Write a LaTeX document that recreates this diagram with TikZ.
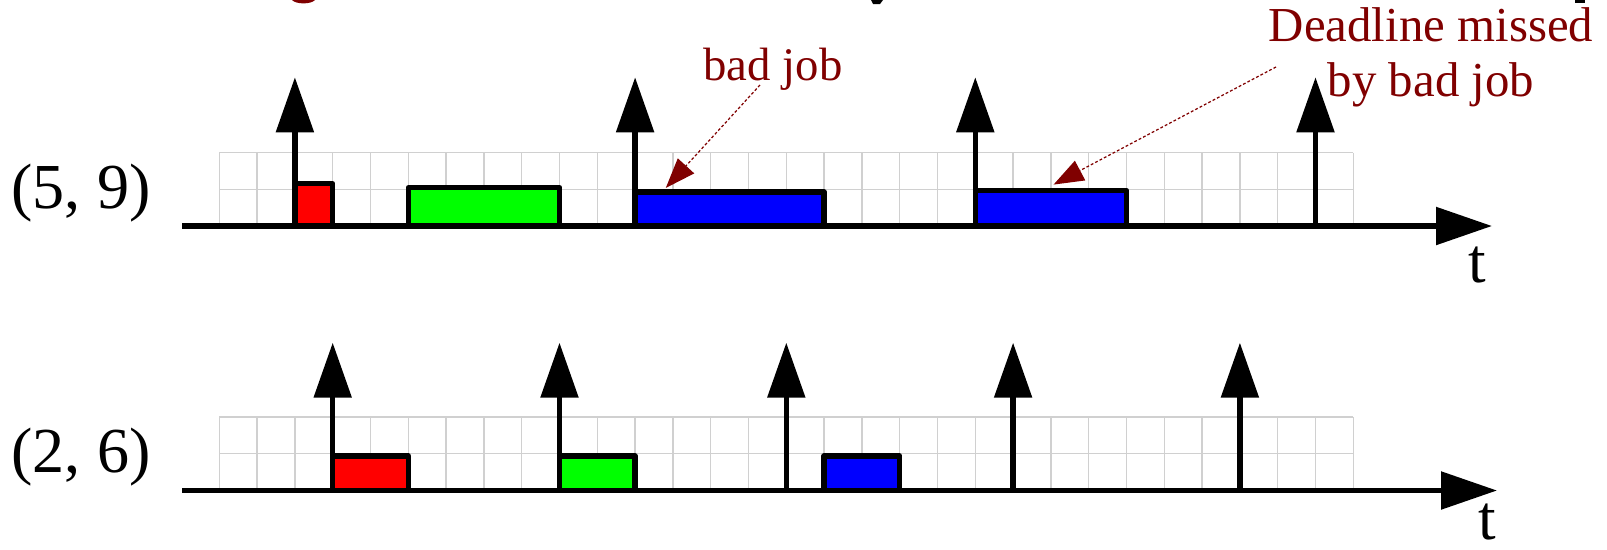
\documentclass[tikz,border=0pt]{standalone}
\usepackage{fontspec}
\setmainfont{Liberation Serif}
\usetikzlibrary{arrows.meta,fit,calc}

\definecolor{dkred}{RGB}{128,0,0}
\definecolor{jobred}{RGB}{255,0,0}
\definecolor{jobgreen}{RGB}{0,255,0}
\definecolor{jobblue}{RGB}{0,0,255}
\definecolor{gridgray}{RGB}{208,208,208}

\tikzset{
  heavy/.style={line width=3.1pt},
  timeaxis/.style={heavy, -{Triangle[length=1.12cm 0 0, width=0.74cm 0 0]}},
  release/.style={heavy, -{Triangle[length=1.1cm 0 0, width=0.74cm 0 0]}},
  jobbox/.style={draw, heavy, line join=round, inner sep=0pt},
  gridline/.style={draw=gridgray, line width=0.75pt},
  tasklabel/.style={anchor=base, inner sep=0pt, font=\fontsize{36.5pt}{42pt}\selectfont},
  axislabel/.style={anchor=base, inner sep=0pt, font=\fontsize{36pt}{42pt}\selectfont},
  note/.style={anchor=base, inner sep=0pt, text=dkred},
  pointer/.style={draw=dkred, line width=0.7pt, dash pattern=on 1.6pt off 1.2pt,
    -{Triangle[length=0.6cm 0 0, width=0.44cm 0 0]}}
}

\begin{document}
\begin{tikzpicture}[x=0.02cm, y=-0.02cm]
  \useasboundingbox (0,0) rectangle (1607,549);
  \clip (0,0) rectangle (1607,549);

  % descender tails of the heading line above
  \fill[dkred] (292,0) .. controls (296,4.5) and (311,4.5) .. (315,0) -- cycle;
  \fill (871,0) -- (883,0) -- (880,4) -- (873,4) -- cycle;
  \fill (1575,0) -- (1585,0) -- (1585,3.3) -- (1575,3.3) -- cycle;

  % ---- background grids (30 slots each) ----
  \foreach \k in {0,...,30} {
    \draw[gridline] ({219.3+37.8*\k},152.5) -- ({219.3+37.8*\k},226);
    \draw[gridline] ({219.3+37.8*\k},417) -- ({219.3+37.8*\k},490.5);
  }
  \foreach \yy in {152.5,189.3} \draw[gridline] (219.3,\yy) -- (1353.3,\yy);
  \foreach \yy in {417,453.7} \draw[gridline] (219.3,\yy) -- (1353.3,\yy);

  % ---- jobs of task (5, 9) ----
  \node[jobbox, fill=jobred,   fit={(294.9,183.7)(332.7,226)}]  (aRed)   {};
  \node[jobbox, fill=jobgreen, fit={(408.3,187.7)(559.5,226)}]  (aGreen) {};
  \node[jobbox, fill=jobblue,  fit={(635.1,192)(824.1,226)}]    (blueA)  {};
  \node[jobbox, fill=jobblue,  fit={(975.3,190.4)(1126.5,226)}] (blueB)  {};

  % ---- jobs of task (2, 6) ----
  \node[jobbox, fill=jobred,   fit={(332.7,456)(408.3,490.5)}]  (bRed)   {};
  \node[jobbox, fill=jobgreen, fit={(559.5,456)(635.1,490.5)}]  (bGreen) {};
  \node[jobbox, fill=jobblue,  fit={(824.1,456)(899.7,490.5)}]  (bBlue)  {};

  % ---- time axes ----
  \coordinate (axAfrom) at (182,226);
  \coordinate (axAto)   at (1492,226);
  \coordinate (axBfrom) at (182,490.5);
  \coordinate (axBto)   at (1497,490.5);
  \draw[timeaxis] (axAfrom) -- (axAto);
  \draw[timeaxis] (axBfrom) -- (axBto);

  % ---- release arrows ----
  \foreach \k [count=\i] in {2,11,20,29} {
    \coordinate (relA\i) at ({219.3+37.8*\k},226);
    \coordinate (topA\i) at ({219.3+37.8*\k},77.3);
    \draw[release] (relA\i) -- (topA\i);
  }
  \foreach \k [count=\i] in {3,9,15,21,27} {
    \coordinate (relB\i) at ({219.3+37.8*\k},490.5);
    \coordinate (topB\i) at ({219.3+37.8*\k},342.7);
    \draw[release] (relB\i) -- (topB\i);
  }

  % ---- labels ----
  \node[tasklabel] (taskA) at (81,208) {(5, 9)};
  \node[tasklabel] (taskB) at (81,472) {(2, 6)};
  \node[axislabel] (tA) at (1477,282) {t};
  \node[axislabel] (tB) at (1487.5,539) {t};

  % ---- annotations ----
  \node[note, font=\fontsize{26.6pt}{30pt}\selectfont] (badjob) at (773,80) {bad job};
  \node[note, font=\fontsize{27.8pt}{31pt}\selectfont] (dlA) at (1431,41.7) {Deadline missed};
  \node[note, font=\fontsize{27.8pt}{31pt}\selectfont] (dlB) at (1431,96.7) {by bad job};

  \coordinate (bjfrom) at (760,85);
  \coordinate (dlfrom) at (1276,67);
  \draw[pointer] (bjfrom) -- ($(blueA.north west)+(33.4,-1.3)$);
  \draw[pointer] (dlfrom) -- ($(blueB.north west)+(81,-3.1)$);
\end{tikzpicture}
\end{document}
